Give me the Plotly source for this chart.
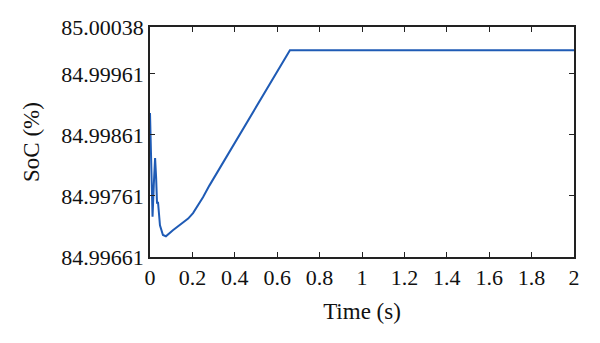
import plotly.graph_objects as go

time_s = [0.0, 0.006, 0.012, 0.018, 0.024, 0.029, 0.033, 0.038, 0.047, 0.061, 0.075,
          0.108, 0.156, 0.18, 0.203, 0.225, 0.25, 0.28, 0.316, 0.377, 0.425, 0.519, 0.66,
          1.0, 1.5, 2.0]
soc = [84.99897, 84.99800, 84.99727, 84.99780, 84.99823, 84.99790, 84.99750, 84.99750,
       84.99713, 84.99697, 84.99695, 84.99705, 84.99717, 84.99724, 84.99733, 84.99745,
       84.99759, 84.99778, 84.99799, 84.99836, 84.99864, 84.99918, 85.00000,
       85.00000, 85.00000, 85.00000]

y_ticks = [84.99661, 84.99761, 84.99861, 84.99961, 85.00038]
y_labels = ["84.99661", "84.99761", "84.99861", "84.99961", "85.00038"]
x_ticks = [0, 0.2, 0.4, 0.6, 0.8, 1, 1.2, 1.4, 1.6, 1.8, 2]
x_labels = ["0", "0.2", "0.4", "0.6", "0.8", "1", "1.2", "1.4", "1.6", "1.8", "2"]

font_family = "Liberation Serif, DejaVu Serif, serif"

fig = go.Figure()
fig.add_trace(go.Scatter(x=time_s, y=soc, mode="lines",
                         line=dict(color="#1f5bb5", width=2), showlegend=False))

fig.update_layout(
    width=592, height=335,
    margin=dict(l=142, r=26, t=19, b=86),
    paper_bgcolor="white", plot_bgcolor="white",
    font=dict(family=font_family, size=22, color="#111"),
)
fig.update_xaxes(
    range=[0, 2], tickvals=x_ticks, ticktext=x_labels, automargin=False,
    showline=True, linecolor="#222", linewidth=1.5, mirror="ticks",
    ticks="inside", ticklen=5, tickcolor="#222", showgrid=False, zeroline=False,
    title=dict(text="Time (s)", font=dict(size=23), standoff=14),
)
fig.update_yaxes(
    range=[84.99661, 85.00038], tickvals=y_ticks, ticktext=y_labels, automargin=False,
    showline=True, linecolor="#222", linewidth=1.5, mirror="ticks",
    ticks="inside", ticklen=5, tickcolor="#222", showgrid=False, zeroline=False,
    title=dict(text="SoC (%)", font=dict(size=23), standoff=15),
)

fig.write_html("out.html")
